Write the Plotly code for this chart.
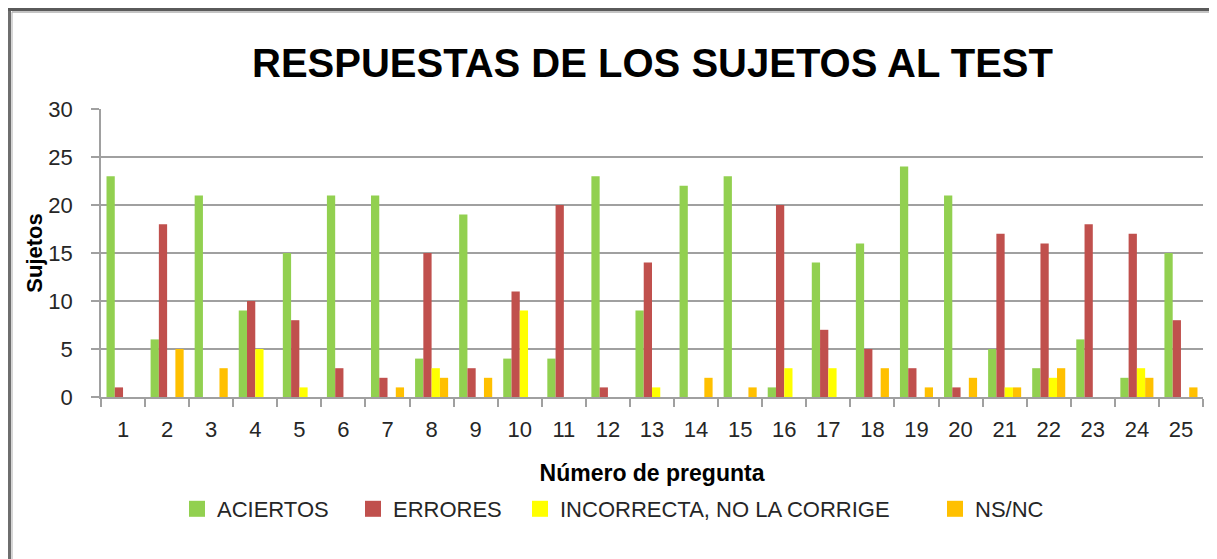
import plotly.graph_objects as go

categories = [str(i) for i in range(1, 26)]
aciertos = [23, 6, 21, 9, 15, 21, 21, 4, 19, 4, 4, 23, 9, 22, 23, 1, 14, 16, 24, 21, 5, 3, 6, 2, 15]
errores = [1, 18, 0, 10, 8, 3, 2, 15, 3, 11, 20, 1, 14, 0, 0, 20, 7, 5, 3, 1, 17, 16, 18, 17, 8]
incorrecta = [0, 0, 0, 5, 1, 0, 0, 3, 0, 9, 0, 0, 1, 0, 0, 3, 3, 0, 0, 0, 1, 2, 0, 3, 0]
nsnc = [0, 5, 3, 0, 0, 0, 1, 2, 2, 0, 0, 0, 0, 2, 1, 0, 0, 3, 1, 2, 1, 3, 0, 2, 1]

series_names = ["ACIERTOS", "ERRORES", "INCORRECTA, NO LA CORRIGE", "NS/NC"]
series_values = [aciertos, errores, incorrecta, nsnc]
colors = ["#92D050", "#C0504D", "#FFFF00", "#FFC000"]

FONT = "Liberation Sans"
OFF = 8  # page body margin
W, H = 1217 - OFF, 559 - OFF
# plot area in screen pixels
SL, SR, ST, SB = 101, 1203, 109, 397
L, R, T, B = SL - OFF, W - (SR - OFF), ST - OFF, H - (SB - OFF)
pw = W - L - R
ph = H - T - B


def px_x(sx):
    return (sx - OFF - L) / pw


def px_y(sy):
    return (H - B - (sy - OFF)) / ph


legend_keys = ["legend", "legend2", "legend3", "legend4"]
text_left = [217, 393, 560, 975]

fig = go.Figure()
for name, vals, col in zip(series_names, series_values, colors):
    fig.add_trace(go.Bar(x=categories, y=vals, name=name, showlegend=False,
                         marker=dict(color=col, line=dict(width=0))))
# legend entries (square keys like the original)
for name, col, lk in zip(series_names, colors, legend_keys):
    fig.add_trace(go.Scatter(x=[None], y=[None], name=name, legend=lk, mode="markers",
                             marker=dict(symbol="square", size=16, color=col,
                                         line=dict(width=0)),
                             showlegend=True, hoverinfo="skip"))

legend_common = dict(orientation="h", yanchor="middle", xanchor="left",
                     xref="paper", yref="paper", bgcolor="rgba(0,0,0,0)",
                     font=dict(size=22, color="#262626", family=FONT),
                     itemwidth=30, borderwidth=0)

layout_legends = {}
for lk, tx in zip(legend_keys, text_left):
    layout_legends[lk] = dict(legend_common, x=px_x(tx - 40), y=px_y(509))

fig.update_layout(
    width=W, height=H,
    margin=dict(l=L, r=R, t=T, b=B),
    paper_bgcolor="white", plot_bgcolor="white",
    barmode="group", bargap=0.25, bargroupgap=0,
    font=dict(family=FONT, color="#262626"),
    title=dict(text="<b>RESPUESTAS DE LOS SUJETOS AL TEST</b>",
               xref="container", yref="container",
               x=(652.5 - OFF) / W, xanchor="center",
               y=1 - (63 - OFF) / H, yanchor="middle",
               font=dict(size=40, color="black", family=FONT)),
    showlegend=True,
    xaxis=dict(type="category", showline=True, linecolor="#A0A0A0", linewidth=1.5,
               ticks="outside", tickson="boundaries", ticklen=8, tickcolor="#A0A0A0",
               tickwidth=1.5, tickfont=dict(size=22, color="#262626"),
               ticklabelstandoff=12, showgrid=False,
               title=dict(text="<b>Número de pregunta</b>",
                          font=dict(size=23, color="black"), standoff=24)),
    yaxis=dict(range=[0, 30], dtick=5, showline=True, linecolor="#A0A0A0", linewidth=1.5,
               ticks="outside", ticklen=8, tickcolor="#A0A0A0", tickwidth=1.5,
               showgrid=True, gridcolor="#A0A0A0", gridwidth=1.5, zeroline=False,
               tickfont=dict(size=22, color="#262626"), ticklabelstandoff=14,
               title=dict(text="<b>Sujetos</b>", font=dict(size=22, color="black"),
                          standoff=0)),
    shapes=[
        # outer frame: dark double line on top and left
        dict(type="line", xref="paper", yref="paper",
             x0=px_x(9.5), x1=px_x(9.5), y0=px_y(10), y1=px_y(700),
             line=dict(color="#6E6E6E", width=3)),
        dict(type="line", xref="paper", yref="paper",
             x0=px_x(8), x1=px_x(1300), y0=px_y(9.5), y1=px_y(9.5),
             line=dict(color="#5A5A5A", width=3)),
        dict(type="line", xref="paper", yref="paper",
             x0=px_x(12), x1=px_x(12), y0=px_y(12), y1=px_y(700),
             line=dict(color="#C8C8C8", width=1.5)),
        dict(type="line", xref="paper", yref="paper",
             x0=px_x(12), x1=px_x(1300), y0=px_y(12), y1=px_y(12),
             line=dict(color="#B0B0B0", width=1.5)),
    ],
    **layout_legends,
)

fig.write_html("out.html")
